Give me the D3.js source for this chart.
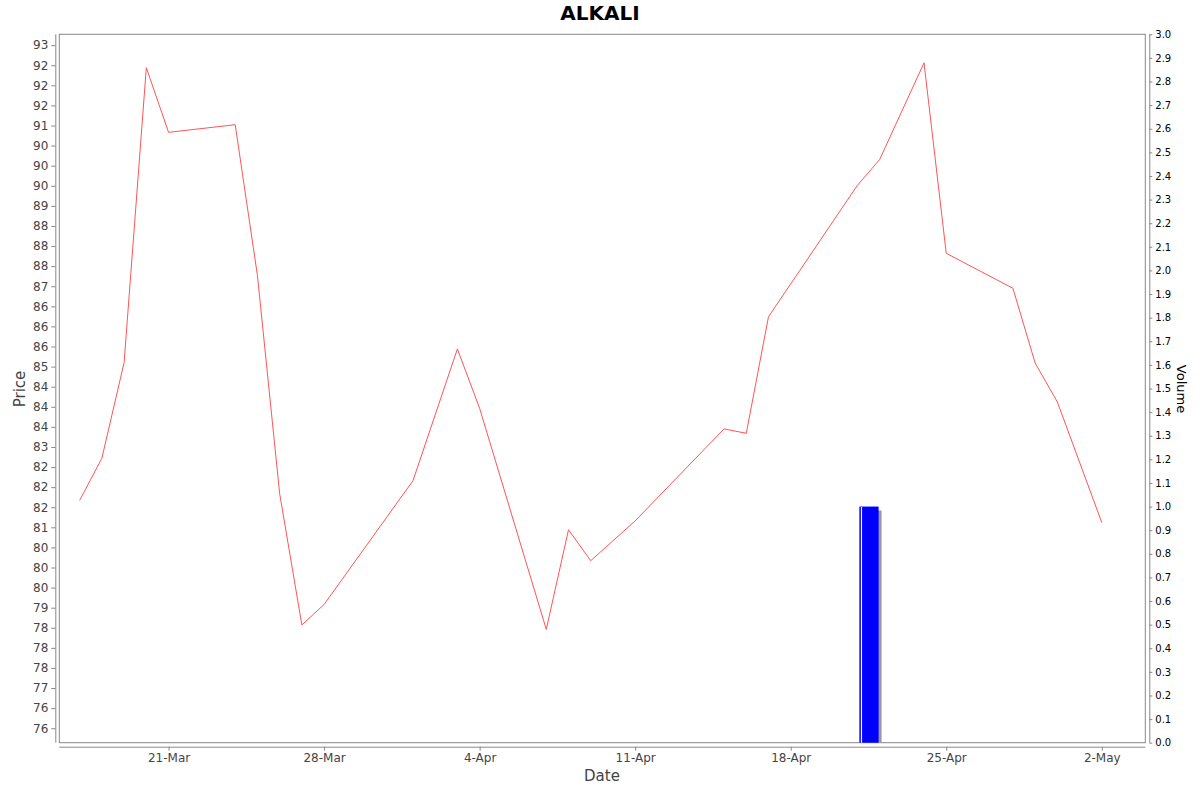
<!DOCTYPE html>
<html>
<head>
<meta charset="utf-8">
<script src="https://cdn.jsdelivr.net/npm/d3@7"></script>
<style>
  body { margin: 0; background: #fff; }
  svg { display: block; font-family: "DejaVu Sans", sans-serif; }
</style>
</head>
<body>
<div id="chart"></div>
<script>
'use strict';

// price series (daily close)
const dates = ['2025-03-17', '2025-03-18', '2025-03-19', '2025-03-20', '2025-03-21',
    '2025-03-24', '2025-03-25', '2025-03-26', '2025-03-27', '2025-03-28',
    '2025-04-01', '2025-04-03', '2025-04-04', '2025-04-07', '2025-04-08',
    '2025-04-09', '2025-04-11', '2025-04-15', '2025-04-16', '2025-04-17',
    '2025-04-21', '2025-04-22', '2025-04-24', '2025-04-25', '2025-04-28',
    '2025-04-29', '2025-04-30', '2025-05-02'];
const prices = [81.67, 82.72, 85.10, 92.44, 90.83,
    91.02, 87.27, 81.84, 78.57, 79.08,
    82.16, 85.44, 83.96, 78.46, 80.94,
    80.17, 81.16, 83.45, 83.34, 86.24,
    89.51, 90.15, 92.56, 87.82, 86.95,
    85.09, 84.12, 81.12];

// volume bars
const volDates = ['2025-04-21'];
const volumes = [1.0];

// axis ticks
const dateTicks = ['2025-03-21', '2025-03-28', '2025-04-04', '2025-04-11',
    '2025-04-18', '2025-04-25', '2025-05-02'];
const priceTicks = d3.range(76, 93.01, 0.5);
const volumeTicks = d3.range(0, 30.1, 1).map(d => d / 10);

const parse = d3.timeParse('%Y-%m-%d');

let width = 1200,
    height = 792,
    plotLeft = 59.3,
    plotRight = 1145.3,
    plotTop = 34.3,
    plotBottom = 742.7,
    font = '"DejaVu Sans", sans-serif';

let X = d3.scaleTime()
    .domain([d3.timeHour.offset(parse('2025-03-21'), -117.6), d3.timeHour.offset(parse('2025-03-21'), 1055.8)])
    .range([plotLeft, plotRight]);
let Y = d3.scaleLinear().domain([75.64, 93.27]).range([plotBottom, plotTop]);
let V = d3.scaleLinear().domain([0, 3.0]).range([plotBottom, plotTop]);

// JFreeChart style rounding of half-step labels (half-even)
function halfEven(v) {
    let f = Math.floor(v);
    if (Math.abs(v - f - 0.5) < 1e-9) return (f % 2 === 0) ? f : f + 1;
    return Math.round(v);
}

let svg = d3.select('#chart').append('svg')
    .attr('width', width)
    .attr('height', height);

// title
svg.append('text')
    .attr('x', 600).attr('y', 20)
    .attr('text-anchor', 'middle')
    .style('font-size', '20px').style('font-weight', 'bold')
    .text('ALKALI');

// plot outline
svg.append('rect')
    .attr('x', plotLeft).attr('y', plotTop)
    .attr('width', plotRight - plotLeft).attr('height', plotBottom - plotTop)
    .attr('fill', '#fff').attr('stroke', '#888').attr('stroke-width', 1);

// volume bars with shadow
let vol = volDates.map((d, i) => ({ date: parse(d), v: volumes[i] }));
let bars = svg.append('g');
bars.selectAll('.shadow').data(vol).enter().append('rect')
    .attr('x', d => X(d.date) + 6)
    .attr('y', d => V(d.v) + 4)
    .attr('width', d => X(d3.timeDay.offset(d.date, 1)) - X(d.date) - 4)
    .attr('height', d => plotBottom - V(d.v) - 4)
    .attr('fill', '#999');
bars.selectAll('.bar').data(vol).enter().append('rect')
    .attr('x', d => X(d.date) + 2)
    .attr('y', d => V(d.v))
    .attr('width', d => X(d3.timeDay.offset(d.date, 1)) - X(d.date) - 3)
    .attr('height', d => plotBottom - V(d.v))
    .attr('fill', '#0000ff');
bars.selectAll('.hl').data(vol).enter().append('rect')
    .attr('x', d => X(d.date) + 3.5)
    .attr('y', d => V(d.v) + 0.5)
    .attr('width', 1.2)
    .attr('height', d => plotBottom - V(d.v) - 0.5)
    .attr('fill', '#fff');

// price line
let pts = dates.map((d, i) => ({ date: parse(d), p: prices[i] }));
svg.append('path')
    .datum(pts)
    .attr('fill', 'none')
    .attr('stroke', '#ff5555')
    .attr('stroke-width', 1)
    .attr('d', d3.line().x(d => X(d.date)).y(d => Y(d.p)));

// left axis
let yAxis = svg.append('g')
    .attr('transform', 'translate(' + (plotLeft - 4) + ',0)')
    .call(d3.axisLeft(Y).tickValues(priceTicks).tickSize(4).tickPadding(3).tickFormat(halfEven));
yAxis.attr('font-family', font);
yAxis.select('.domain').attr('stroke', '#888').attr('d', 'M0.5,' + plotTop + 'V' + plotBottom);
yAxis.selectAll('.tick line').attr('stroke', '#888');
yAxis.selectAll('text').attr('fill', '#444').style('font-size', '12px');

// right axis
let vAxis = svg.append('g')
    .attr('transform', 'translate(' + (plotRight + 4) + ',0)')
    .call(d3.axisRight(V).tickValues(volumeTicks).tickSize(3).tickPadding(3).tickFormat(d3.format('.1f')));
vAxis.attr('font-family', font);
vAxis.select('.domain').attr('stroke', '#888').attr('d', 'M0.5,' + plotTop + 'V' + plotBottom);
vAxis.selectAll('.tick line').attr('stroke', '#888');
vAxis.selectAll('text').attr('fill', '#000').style('font-size', '10px');

// bottom axis
let xAxis = svg.append('g')
    .attr('transform', 'translate(0,' + (plotBottom + 4) + ')')
    .call(d3.axisBottom(X).tickValues(dateTicks.map(parse)).tickSize(4).tickPadding(3).tickFormat(d3.timeFormat('%-d-%b')));
xAxis.attr('font-family', font);
xAxis.select('.domain').attr('stroke', '#888').attr('d', 'M' + plotLeft + ',0.5H' + plotRight);
xAxis.selectAll('.tick line').attr('stroke', '#888');
xAxis.selectAll('text').attr('fill', '#444').style('font-size', '12px');

// axis titles
svg.append('text')
    .attr('x', 602).attr('y', 781)
    .attr('text-anchor', 'middle')
    .attr('fill', '#444')
    .style('font-size', '15px')
    .text('Date');

svg.append('text')
    .attr('transform', 'translate(25,389) rotate(-90)')
    .attr('text-anchor', 'middle')
    .attr('fill', '#444')
    .style('font-size', '15px')
    .text('Price');

svg.append('text')
    .attr('transform', 'translate(1177,389) rotate(90)')
    .attr('text-anchor', 'middle')
    .attr('fill', '#000')
    .style('font-size', '13px')
    .text('Volume');
</script>
</body>
</html>
